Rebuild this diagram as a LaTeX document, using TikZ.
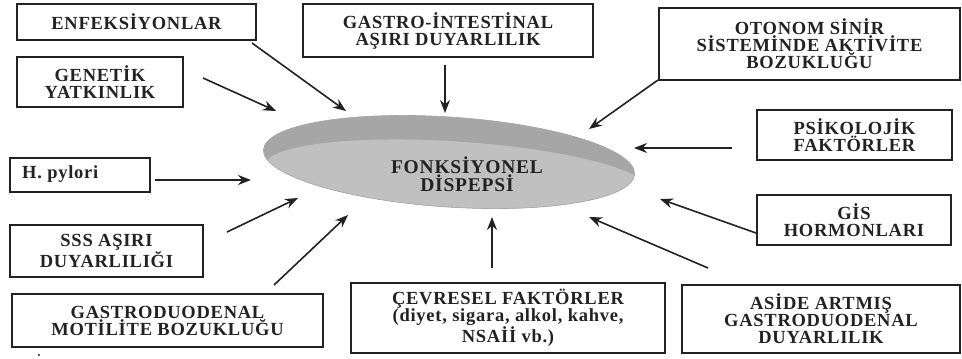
\documentclass[tikz,border=0pt]{standalone}
\usepackage{fontspec}
\setmainfont{Liberation Serif}[LetterSpace=4]
\usetikzlibrary{arrows.meta}
\definecolor{ink}{HTML}{222222}
\definecolor{discdark}{HTML}{A6A6A6}
\definecolor{disclight}{HTML}{C0C0C0}
\tikzset{
  factor/.style={draw=ink, line width=1.4pt, text=ink, align=center, inner sep=0pt,
    font=\fontsize{18.5}{17}\selectfont\bfseries},
  link/.style={draw=ink, line width=1.6pt, -{Stealth[length=13pt,width=10pt]}},
}
\begin{document}
\begin{tikzpicture}[x=1pt,y=-1pt]
\useasboundingbox (0,0) rectangle (962,359);
% disc
\begin{scope}
  \path[rotate around={-3.8:(449,162)}, clip] (449,162) ellipse (186 and 45);
  \fill[discdark] (200,90) rectangle (700,230);
  \fill[disclight, rotate around={-3.8:(449,162)}] (458,177) ellipse (192 and 36);
\end{scope}
\draw[rotate around={-3.8:(449,162)}, draw=gray!70, line width=0.6pt] (449,162) ellipse (186 and 45);
\node[text=ink, align=center, font=\fontsize{19.5}{18}\selectfont\bfseries] (fd) at (467,174) {FONKSİYONEL\\DİSPEPSİ};
% boxes
\node[factor, minimum width=239, minimum height=36] (enf) at (136.5,22) {ENFEKSİYONLAR};
\node[factor, minimum width=166, minimum height=50] (gen) at (100,82) {GENETİK\\YATKINLIK};
\node[factor, minimum width=290, minimum height=53] (gi) at (448,30.5) {GASTRO-İNTESTİNAL\\AŞIRI DUYARLILIK};
\node[factor, minimum width=301, minimum height=72] (oto) at (809.5,44) {OTONOM SİNİR\\SİSTEMİNDE AKTİVİTE\\BOZUKLUĞU};
\node[factor, minimum width=195, minimum height=50] (psi) at (854.5,135) {PSİKOLOJİK\\FAKTÖRLER};
\node[factor, minimum width=140, minimum height=34] (hp) at (80,175) {};
\node[text=ink, anchor=west, inner sep=0pt, font=\fontsize{18.5}{17}\selectfont\bfseries] (hpt) at (22,174) {H. pylori};
\node[factor, minimum width=193, minimum height=52] (sss) at (106.5,251) {SSS AŞIRI\\DUYARLILIĞI};
\node[factor, minimum width=311, minimum height=53] (gmb) at (167.5,320.5) {GASTRODUODENAL\\MOTİLİTE BOZUKLUĞU};
\node[factor, minimum width=314, minimum height=70] (cev) at (508,318) {ÇEVRESEL FAKTÖRLER\\(diyet, sigara, alkol, kahve,\\NSAİİ vb.)};
\node[factor, minimum width=194, minimum height=50] (gis) at (854,220) {GİS\\HORMONLARI};
\node[factor, minimum width=278, minimum height=68] (asi) at (821,319) {ASİDE ARTMIŞ\\GASTRODUODENAL\\DUYARLILIK};
% arrow end points
\coordinate (enfS) at (252,43);  \coordinate (enfE) at (346,111);
\coordinate (genS) at (203,78);  \coordinate (genE) at (276,111);
\coordinate (giS) at (445,65);   \coordinate (giE) at (445,113);
\coordinate (otoS) at (658,80);  \coordinate (otoE) at (589,129);
\coordinate (psiS) at (732,148); \coordinate (psiE) at (634,148);
\coordinate (hpS) at (155,180);  \coordinate (hpE) at (251,180);
\coordinate (sssS) at (227,232); \coordinate (sssE) at (298,198);
\coordinate (gmbS) at (274,285); \coordinate (gmbE) at (348,215);
\coordinate (cevS) at (492,268); \coordinate (cevE) at (492,217);
\coordinate (gisS) at (756,233); \coordinate (gisE) at (660,199);
\coordinate (asiS) at (708,268); \coordinate (asiE) at (589,217);
\foreach \n in {enf,gen,gi,oto,psi,hp,sss,gmb,cev,gis,asi}
  \draw[link] (\n S) -- (\n E);
\fill[ink] (39,355) circle (1.2);
\end{tikzpicture}
\end{document}
